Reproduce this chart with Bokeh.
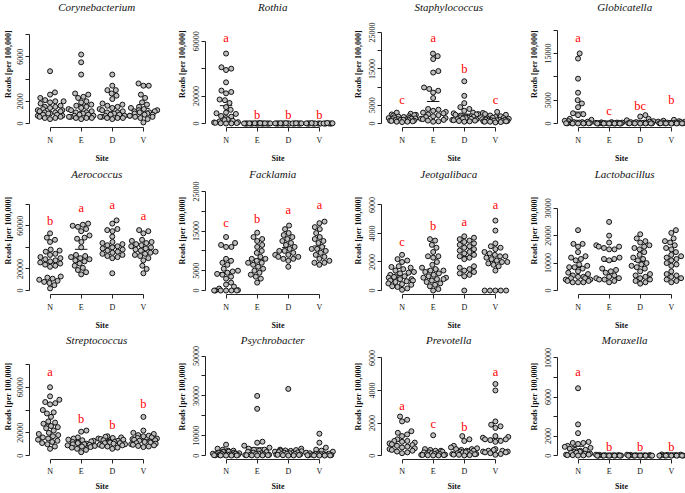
import numpy as np
from bokeh.plotting import figure
from bokeh.layouts import gridplot
from bokeh.models import FixedTicker, Range1d
from bokeh.core.properties import value
from bokeh.embed import file_html
from bokeh.resources import INLINE

sites = ["N", "E", "D", "V"]
taxa = ["Corynebacterium", "Rothia", "Staphylococcus", "Globicatella",
        "Aerococcus", "Facklamia", "Jeotgalibaca", "Lactobacillus",
        "Streptococcus", "Psychrobacter", "Prevotella", "Moraxella"]

# ---------------- data (reads per 100,000) ----------------
cory_N = [4700, 2800, 2600, 2300, 2100, 2000, 2000, 1900, 1800, 1600, 1500, 1500, 1400, 1300, 1200, 1200, 1100, 1100, 1000, 1000, 900, 900, 800, 800, 700, 700, 600, 600, 500, 500, 400]
cory_E = [6200, 5500, 4400, 2700, 2600, 2400, 2300, 2000, 1900, 1700, 1600, 1500, 1400, 1300, 1200, 1100, 1000, 1000, 900, 900, 800, 800, 700, 700, 600, 600, 500, 500, 500, 400]
cory_D = [4400, 3400, 3000, 3000, 2700, 2500, 2200, 1800, 1700, 1600, 1500, 1400, 1300, 1200, 1100, 1000, 1000, 900, 900, 800, 800, 700, 700, 600, 600, 500, 500, 500, 400]
cory_V = [3600, 3400, 3400, 2600, 2300, 1900, 1700, 1500, 1400, 1300, 1200, 1200, 1100, 1100, 1000, 1000, 900, 900, 800, 800, 700, 700, 600, 600, 500, 400, 100]

roth_N = [51000, 41000, 40000, 39000, 30000, 24000, 23000, 22000, 17500, 17000, 15000, 12000, 10000, 8000, 7500, 7000, 5500, 5000, 4000, 3000, 2500, 2000, 1500, 1000, 800, 500, 300, 200, 100, 50]
roth_E = [0, 0, 0, 0, 0, 0, 10, 10, 20, 20, 30, 30, 40, 50, 60, 80, 100, 120, 150, 200, 250, 300]
roth_D = [0, 0, 0, 0, 0, 10, 10, 20, 20, 30, 40, 50, 60, 80, 100, 120, 150, 200, 250, 300]
roth_V = [0, 0, 0, 0, 0, 0, 10, 10, 20, 30, 40, 50, 60, 80, 100, 150, 200, 300, 400]

stap_N = [3000, 2700, 2500, 2400, 2300, 2200, 2000, 1900, 1800, 1700, 1600, 1500, 1400, 1300, 1200, 1200, 1100, 1000, 1000, 900, 900, 800, 800, 700, 600, 500, 500, 400]
stap_E = [19200, 18500, 17700, 14400, 14000, 9900, 9500, 9000, 8500, 7000, 4000, 3800, 3500, 3200, 3000, 2800, 2500, 2300, 2000, 1800, 1500, 1300, 1200, 1000, 800, 600, 500]
stap_D = [11600, 7600, 5600, 4500, 4000, 3500, 3000, 2800, 2600, 2500, 2400, 2200, 2000, 1900, 1800, 1700, 1600, 1500, 1400, 1300, 1200, 1100, 1000, 900, 800, 700, 600, 500]
stap_V = [3200, 2900, 2600, 2400, 2200, 2000, 1800, 1600, 1500, 1400, 1300, 1200, 1100, 1000, 1000, 900, 900, 800, 800, 700, 700, 600, 600, 500, 500, 400, 300]

glob_N = [15000, 13900, 9600, 6600, 5000, 4300, 3500, 2200, 2000, 1800, 1000, 800, 600, 500, 400, 300, 300, 200, 200, 100, 100, 100, 50, 50, 50, 20, 20, 10]
glob_E = [300, 250, 200, 200, 150, 150, 100, 100, 80, 60, 50, 40, 30, 20, 10, 10, 0, 0, 0, 0]
glob_D = [1800, 1500, 1000, 700, 500, 400, 300, 300, 200, 200, 150, 100, 100, 80, 50, 50, 30, 20, 10, 0]
glob_V = [800, 600, 500, 400, 350, 300, 250, 200, 200, 150, 100, 100, 80, 60, 50, 40, 30, 20, 10, 0]

aero_N = [53000, 49000, 47000, 45000, 38000, 37000, 36000, 34000, 33000, 31000, 30000, 29000, 28000, 27000, 26000, 25000, 24000, 23000, 22000, 13000, 12000, 11000, 10000, 9000, 8000, 7000, 5000, 2000]
aero_E = [62000, 61000, 60000, 59000, 57000, 55000, 51000, 49000, 48000, 45000, 40000, 33000, 32000, 31000, 30000, 29000, 28000, 27000, 25000, 23000, 21000, 19000, 17000, 15000]
aero_D = [65000, 62000, 57000, 56000, 55000, 50000, 45000, 44000, 43000, 42000, 41000, 40000, 39000, 38000, 37000, 36000, 35000, 34000, 33000, 32000, 31000, 30000, 16000]
aero_V = [56000, 55000, 53000, 47000, 46000, 45000, 44000, 43000, 42000, 41000, 40000, 39000, 38000, 37000, 36000, 35000, 34000, 33000, 32000, 30000, 28000, 23000, 20000, 16000]

fack_N = [13500, 12000, 11500, 11000, 11000, 8000, 7500, 7000, 6500, 5500, 5000, 4800, 4500, 4200, 4000, 3500, 3000, 2000, 1500, 1000, 500, 100, 0, 0, 0, 0, 0, 0]
fack_E = [14600, 13500, 13000, 12500, 11500, 11000, 10000, 9500, 8500, 8000, 8000, 7500, 7000, 7000, 6500, 6000, 5500, 5000, 4500, 4000, 3500, 3000, 2000]
fack_D = [16400, 15500, 14500, 14000, 13500, 13000, 12500, 12000, 11500, 11000, 10500, 10000, 10000, 9500, 9000, 9000, 8500, 8500, 8000, 8000, 7500, 6000]
fack_V = [17400, 17000, 16000, 15500, 14500, 13500, 13000, 12500, 12000, 11000, 10500, 10500, 10000, 9500, 9000, 8500, 8000, 7500, 7000, 7000, 6500]

jeot_N = [2500, 2200, 2100, 2000, 1700, 1650, 1600, 1500, 1400, 1300, 1250, 1200, 1100, 1000, 1000, 950, 900, 800, 800, 700, 700, 650, 600, 500, 450, 400, 300, 250, 150, 50]
jeot_E = [3600, 3500, 3200, 3000, 2700, 2400, 2400, 2300, 2000, 1800, 1600, 1500, 1400, 1400, 1300, 1200, 1100, 1000, 900, 900, 800, 800, 700, 600, 500, 400, 300, 100, 0]
jeot_D = [3800, 3700, 3600, 3500, 3400, 3300, 3200, 3100, 3000, 2900, 2800, 2700, 2600, 2500, 2400, 2300, 2200, 1700, 1600, 1500, 1400, 1300, 1200, 1100, 1000, 0]
jeot_V = [4900, 4200, 3300, 3100, 3000, 2900, 2700, 2600, 2500, 2400, 2400, 2300, 2200, 2100, 2000, 2000, 1900, 1800, 1700, 1400, 0, 0, 0, 0, 0]

lact_N = [22000, 17000, 17000, 16000, 14000, 12500, 12000, 11500, 11000, 9500, 9000, 8500, 8500, 8000, 7000, 6500, 6000, 5500, 5000, 5000, 4500, 4500, 4000, 4000, 3500, 3500, 3000, 3000, 3000]
lact_E = [25000, 20000, 17500, 16500, 16000, 16000, 15500, 15000, 15000, 12000, 11500, 11500, 11000, 8000, 7500, 7000, 6500, 5500, 5000, 4500, 4500, 4000, 4000, 3500, 3000]
lact_D = [20500, 19000, 18000, 17500, 16500, 16000, 15500, 15000, 14000, 13000, 12000, 11500, 11000, 10000, 9500, 9000, 8500, 8000, 7000, 6000, 5500, 5000, 4500, 4000, 3500, 3000, 2500]
lact_V = [22000, 21000, 19000, 18000, 17500, 16500, 15500, 15000, 14000, 13000, 12500, 12000, 11500, 11000, 10000, 9500, 9000, 7000, 6000, 5500, 5000, 4500, 4000, 3500, 3000]

stre_N = [60000, 52000, 49000, 47000, 46000, 45000, 40000, 38000, 37000, 34000, 30000, 29000, 28000, 26000, 25000, 24000, 22000, 20000, 19000, 18000, 17000, 16000, 15000, 14000, 13000, 12000, 11000, 10000, 8000, 6000]
stre_E = [22000, 21000, 16000, 15000, 14000, 13500, 13000, 12500, 12000, 11500, 11000, 10500, 10000, 10000, 9500, 9000, 8500, 8000, 7500, 7000, 6000, 5000, 3000]
stre_D = [17000, 16500, 16000, 15500, 15000, 14500, 14000, 13500, 13000, 12500, 12000, 12000, 11500, 11000, 11000, 10500, 10000, 9500, 9000, 8500, 8000, 7000, 6000]
stre_V = [34000, 22000, 20000, 19000, 18000, 17500, 17000, 16000, 15500, 15000, 14500, 14000, 13500, 13000, 12500, 12000, 11500, 11000, 10500, 10000, 9500, 9000, 8500, 8000, 7500]

psyc_N = [5500, 3500, 3000, 2500, 2500, 2000, 2000, 1800, 1500, 1500, 1200, 1000, 1000, 800, 800, 600, 500, 500, 400, 300, 300, 200, 200, 100, 100, 50, 50]
psyc_E = [30000, 23500, 7000, 6500, 5000, 4000, 3500, 3000, 3000, 2500, 2000, 1800, 1500, 1200, 1000, 800, 600, 500, 400, 300, 200, 200, 100, 100, 50]
psyc_D = [33500, 3500, 3000, 2800, 2600, 2500, 2400, 2200, 2000, 1800, 1600, 1500, 1300, 1200, 1000, 900, 800, 600, 500, 400, 300, 200, 100, 50]
psyc_V = [11000, 6500, 4000, 3000, 2500, 2000, 1500, 1200, 1000, 900, 800, 700, 600, 500, 400, 300, 200, 200, 100, 100, 50, 50]

prev_N = [2400, 2200, 2100, 1500, 1400, 1300, 1200, 1000, 900, 900, 850, 800, 750, 700, 650, 600, 550, 500, 450, 400, 350, 300, 250, 200, 150]
prev_E = [1250, 400, 350, 300, 300, 250, 200, 200, 150, 150, 100, 100, 80, 60, 50, 40, 30, 20, 10, 10]
prev_D = [1200, 1000, 900, 600, 500, 450, 400, 400, 350, 300, 300, 250, 250, 200, 200, 150, 150, 100, 100, 80, 60, 50, 30, 10]
prev_V = [4400, 4000, 2100, 1900, 1800, 1700, 1200, 1150, 1100, 1000, 1000, 950, 900, 850, 400, 350, 300, 300, 250, 250, 200, 200, 150, 100, 50]

mora_N = [6900, 3200, 2300, 1400, 1300, 1300, 1200, 1000, 900, 800, 700, 600, 600, 500, 400, 400, 300, 300, 200, 200, 100, 100, 50, 50, 20, 10]
mora_E = [100, 80, 60, 50, 40, 30, 20, 20, 10, 10, 0, 0, 0, 0, 0, 0]
mora_D = [100, 80, 60, 50, 40, 30, 20, 10, 10, 0, 0, 0, 0, 0, 0, 0]
mora_V = [120, 100, 80, 60, 50, 40, 30, 20, 10, 0, 0, 0, 0, 0, 0]

# significance letters and their heights
cory_let, cory_let_y = [], []
roth_let, roth_let_y = ["a", "b", "b", "b"], [62400, 6000, 6000, 6000]
stap_let, stap_let_y = ["c", "a", "b", "c"], [6400, 23500, 14900, 6400]
glob_let, glob_let_y = ["a", "c", "bc", "b"], [18350, 2640, 3700, 5000]
aero_let, aero_let_y = ["b", "a", "a", "a"], [64500, 76900, 79400, 69500]
fack_let, fack_let_y = ["c", "b", "a", "a"], [17000, 18000, 20400, 21600]
jeot_let, jeot_let_y = ["c", "b", "a", "a"], [3430, 4550, 4830, 6000]
lact_let, lact_let_y = [], []
stre_let, stre_let_y = ["a", "b", "b", "b"], [73400, 32300, 27100, 45100]
psyc_let, psyc_let_y = [], []
prev_let, prev_let_y = ["a", "c", "b", "a"], [3040, 1940, 1740, 5140]
mora_let, mora_let_y = ["a", "b", "b", "b"], [8570, 900, 900, 900]

# y axis ticks and the labels that are printed
cory_ticks, cory_labs = [0, 2000, 4000, 6000, 8000], ["0", "2000", "", "6000", ""]
roth_ticks, roth_labs = [0, 20000, 40000, 60000], ["0", "20000", "", "60000"]
stap_ticks, stap_labs = [0, 5000, 10000, 15000, 20000, 25000], ["0", "5000", "", "15000", "", "25000"]
glob_ticks, glob_labs = [0, 5000, 10000, 15000, 20000], ["0", "5000", "", "15000", ""]
aero_ticks, aero_labs = [0, 20000, 40000, 60000, 80000], ["0", "20000", "", "60000", ""]
fack_ticks, fack_labs = [0, 5000, 10000, 15000, 20000, 25000], ["0", "5000", "", "15000", "", "25000"]
jeot_ticks, jeot_labs = [0, 2000, 4000, 6000], ["0", "2000", "4000", "6000"]
lact_ticks, lact_labs = [0, 10000, 20000, 30000], ["0", "10000", "20000", "30000"]
stre_ticks, stre_labs = [0, 20000, 40000, 60000, 80000], ["0", "20000", "", "60000", ""]
psyc_ticks, psyc_labs = [0, 10000, 20000, 30000, 40000, 50000], ["0", "10000", "", "30000", "", "50000"]
prev_ticks, prev_labs = [0, 2000, 4000, 6000], ["0", "2000", "4000", "6000"]
mora_ticks, mora_labs = [0, 2000, 4000, 6000, 8000, 10000], ["0", "2000", "", "6000", "", "10000"]

# upper y limit of each panel
ylim_top = [8900, 72200, 27200, 21200, 91800, 25000, 6940, 36100, 84900, 48600, 5940, 9910]

groups = [
    (cory_N, cory_E, cory_D, cory_V), (roth_N, roth_E, roth_D, roth_V),
    (stap_N, stap_E, stap_D, stap_V), (glob_N, glob_E, glob_D, glob_V),
    (aero_N, aero_E, aero_D, aero_V), (fack_N, fack_E, fack_D, fack_V),
    (jeot_N, jeot_E, jeot_D, jeot_V), (lact_N, lact_E, lact_D, lact_V),
    (stre_N, stre_E, stre_D, stre_V), (psyc_N, psyc_E, psyc_D, psyc_V),
    (prev_N, prev_E, prev_D, prev_V), (mora_N, mora_E, mora_D, mora_V),
]
letters = [(cory_let, cory_let_y), (roth_let, roth_let_y), (stap_let, stap_let_y), (glob_let, glob_let_y),
           (aero_let, aero_let_y), (fack_let, fack_let_y), (jeot_let, jeot_let_y), (lact_let, lact_let_y),
           (stre_let, stre_let_y), (psyc_let, psyc_let_y), (prev_let, prev_let_y), (mora_let, mora_let_y)]
ticks = [(cory_ticks, cory_labs), (roth_ticks, roth_labs), (stap_ticks, stap_labs), (glob_ticks, glob_labs),
         (aero_ticks, aero_labs), (fack_ticks, fack_labs), (jeot_ticks, jeot_labs), (lact_ticks, lact_labs),
         (stre_ticks, stre_labs), (psyc_ticks, psyc_labs), (prev_ticks, prev_labs), (mora_ticks, mora_labs)]

# ---------------- layout constants (pixels) ----------------
COL_W = [174, 176, 176, 159]
ROW_H = [166, 167, 160]
BORDER_L = [28, 30, 30, 30]
BORDER_B = [39, 39, 31]
TITLE_FROM_TOP = [6, 7, 7]
REF_H = 107.0          # height of the original plot region
UNIT = 31.33           # px per site
N_OFF = 20.7           # px from plot region edge to first site
DOT = 5.4              # swarm spacing
CORRAL = 14.1          # half width of the corral

SERIF = value("Liberation Serif")
AX_COL = "#222222"


def swarm(vals, s):
    """beeswarm 'swarm' layout computed in pixel space, returns x offsets in px"""
    y = np.asarray(vals, float) * s
    order = np.argsort(y, kind="stable")
    xs = np.zeros(len(y))
    placed = []
    for i in order:
        near = [j for j in placed if abs(y[i] - y[j]) < DOT]
        cands = [0.0]
        offs = [np.sqrt(DOT ** 2 - (y[i] - y[j]) ** 2) for j in near]
        cands += [xs[j] + o for j, o in zip(near, offs)]
        cands += [xs[j] - o for j, o in zip(near, offs)]
        best = None
        for c in cands:
            ok = all((c - xs[j]) ** 2 + (y[i] - y[j]) ** 2 >= DOT ** 2 - 1e-6 for j in near)
            if ok and (best is None or abs(c) < abs(best) - 1e-9):
                best = c
        xs[i] = best
        placed.append(i)
    w = 2 * CORRAL
    xs = ((xs + CORRAL) % w) - CORRAL
    return xs


plots = []
for k, name in enumerate(taxa):
    r, c = divmod(k, 4)
    W, H, bl, bb = COL_W[c], ROW_H[r], BORDER_L[c], BORDER_B[r]
    fw, fh = W - bl, H - bb
    top = ylim_top[k]
    s = REF_H / (1.08 * top)
    y0 = -0.04 * top
    y1 = y0 + fh / s
    x0 = 1 - N_OFF / UNIT
    x1 = x0 + fw / UNIT

    p = figure(width=W, height=H, x_range=Range1d(x0, x1), y_range=Range1d(y0, y1),
               output_backend="svg", toolbar_location=None, min_border=0,
               min_border_left=bl, min_border_right=0, min_border_top=0, min_border_bottom=bb)
    p.outline_line_color = None
    p.grid.visible = False
    p.background_fill_color = "white"
    p.border_fill_color = "white"

    # means and points
    for g, vals in enumerate(groups[k]):
        xo = swarm(vals, s) / UNIT
        xs = (g + 1) + xo
        m = float(np.mean(vals))
        p.segment(x0=[g + 1 - 0.2], x1=[g + 1 + 0.2], y0=[m], y1=[m], line_color="#111111", line_width=1)
        p.scatter(x=list(xs), y=list(vals), size=5, fill_color="#BEBEBE", line_color="#111111", line_width=1)

    # letters
    let, let_y = letters[k]
    if let:
        p.text(x=[1, 2, 3, 4], y=let_y, text=let, text_color="#FF0000", text_font=SERIF,
               text_font_size="12.5px", text_align="center", text_baseline="middle")

    # title
    ty = y0 + (fh - TITLE_FROM_TOP[r]) / s
    p.text(x=[2.5], y=[ty], text=[name], text_font=SERIF, text_font_style="italic",
           text_font_size="11px", text_align="center", text_baseline="middle", text_color="#111111")

    # x axis
    xa = p.xaxis[0]
    xa.ticker = FixedTicker(ticks=[1, 2, 3, 4])
    xa.major_label_overrides = {1: "N", 2: "E", 3: "D", 4: "V"}
    xa.bounds = (1, 4)
    xa.minor_tick_line_color = None
    xa.major_tick_in = 0
    xa.major_tick_out = 4
    xa.major_label_standoff = 4 if r < 2 else 3
    xa.axis_line_color = AX_COL
    xa.major_tick_line_color = AX_COL
    xa.major_label_text_font = "Liberation Serif"
    xa.major_label_text_font_size = "8px"
    xa.major_label_text_color = "#111111"
    xa.axis_label = "Site"
    xa.axis_label_standoff = 6 if r < 2 else 3
    xa.axis_label_text_font = "Liberation Serif"
    xa.axis_label_text_font_size = "8px"
    xa.axis_label_text_font_style = "bold"
    xa.axis_label_text_color = "#111111"

    # y axis
    ya = p.yaxis[0]
    tk, lb = ticks[k]
    ya.ticker = FixedTicker(ticks=tk)
    ya.major_label_overrides = {t: l for t, l in zip(tk, lb)}
    ya.bounds = (0, tk[-1])
    ya.minor_tick_line_color = None
    ya.major_tick_in = 0
    ya.major_tick_out = 4
    ya.major_label_standoff = 2
    ya.major_label_orientation = "vertical"
    ya.axis_line_color = AX_COL
    ya.major_tick_line_color = AX_COL
    ya.major_label_text_font = "Liberation Serif"
    ya.major_label_text_font_size = "8px"
    ya.major_label_text_color = "#111111"
    ya.axis_label = "Reads [per 100,000]"
    ya.axis_label_standoff = 2 if c == 0 else 4
    ya.axis_label_text_font = "Liberation Serif"
    ya.axis_label_text_font_size = "8px"
    ya.axis_label_text_font_style = "bold"
    ya.axis_label_text_color = "#111111"
    plots.append(p)

grid = gridplot([plots[0:4], plots[4:8], plots[8:12]], toolbar_location=None)
open("out.html", "w").write(file_html(grid, INLINE))
